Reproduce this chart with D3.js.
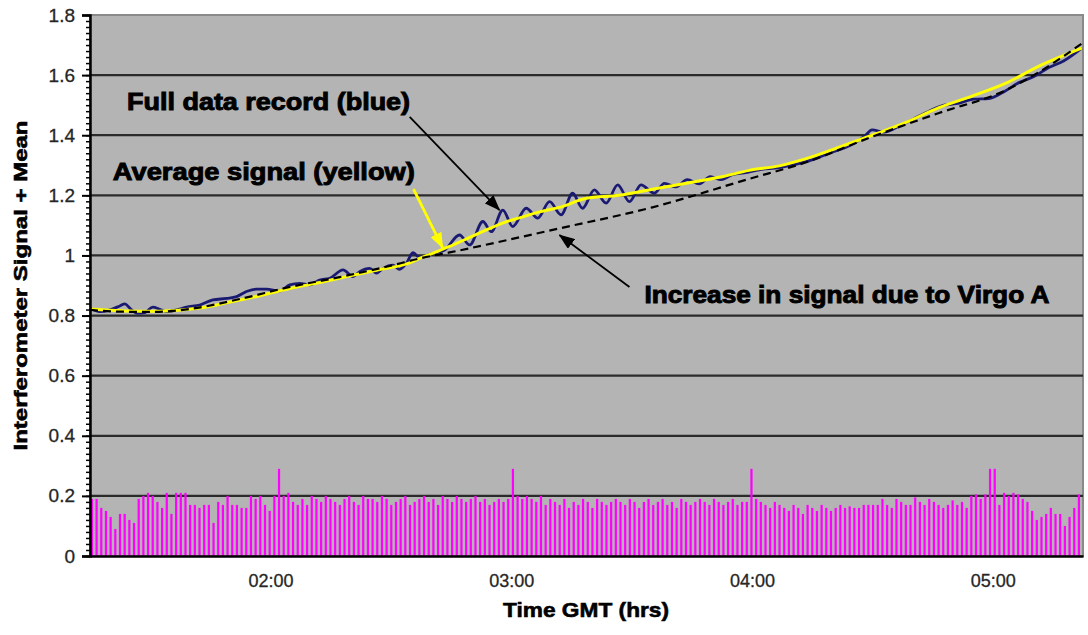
<!DOCTYPE html>
<html>
<head>
<meta charset="utf-8">
<script src="https://cdnjs.cloudflare.com/ajax/libs/d3/7.8.5/d3.min.js"></script>
<style>
  body { margin: 0; background: #fff; }
  text { font-family: "Liberation Sans", Arial, sans-serif; }
</style>
</head>
<body>
<div id="chart"></div>
<script>
// hours GMT (decimal) and interferometer value
var bluePoints = [
  [1.250, 0.824], [1.291, 0.813], [1.333, 0.819], [1.374, 0.832], [1.395, 0.839],
  [1.416, 0.824], [1.444, 0.808], [1.478, 0.810], [1.511, 0.828], [1.540, 0.821],
  [1.568, 0.813], [1.610, 0.819], [1.651, 0.828], [1.706, 0.835], [1.760, 0.852],
  [1.817, 0.857], [1.859, 0.863], [1.900, 0.880], [1.942, 0.888], [1.983, 0.888],
  [2.038, 0.882], [2.080, 0.902], [2.121, 0.907], [2.163, 0.902], [2.204, 0.918],
  [2.246, 0.924], [2.301, 0.952], [2.343, 0.930], [2.370, 0.946], [2.412, 0.957],
  [2.440, 0.941], [2.467, 0.957], [2.509, 0.968], [2.536, 0.954], [2.564, 0.974],
  [2.592, 1.009], [2.619, 0.993], [2.674, 1.007], [2.723, 1.018], [2.785, 1.068],
  [2.827, 1.035], [2.882, 1.113], [2.917, 1.079], [2.965, 1.151], [3.006, 1.096],
  [3.062, 1.157], [3.110, 1.124], [3.159, 1.179], [3.207, 1.135], [3.255, 1.207],
  [3.296, 1.157], [3.345, 1.218], [3.394, 1.174], [3.442, 1.235], [3.491, 1.179],
  [3.539, 1.235], [3.594, 1.207], [3.636, 1.240], [3.684, 1.228], [3.731, 1.252],
  [3.781, 1.238], [3.827, 1.262], [3.872, 1.252], [3.922, 1.270], [3.968, 1.275],
  [4.030, 1.285], [4.113, 1.292], [4.225, 1.312], [4.320, 1.340], [4.404, 1.365],
  [4.466, 1.395], [4.499, 1.418], [4.549, 1.410], [4.611, 1.430], [4.673, 1.455],
  [4.736, 1.480], [4.798, 1.500], [4.848, 1.505], [4.922, 1.520], [4.984, 1.522],
  [5.047, 1.545], [5.109, 1.575], [5.171, 1.595], [5.233, 1.625], [5.296, 1.648],
  [5.370, 1.690]
];

var yellowPoints = [
  [1.250, 0.822], [1.333, 0.818], [1.416, 0.815], [1.499, 0.814], [1.582, 0.816],
  [1.706, 0.825], [1.831, 0.845], [1.955, 0.866], [2.080, 0.890], [2.204, 0.910],
  [2.329, 0.932], [2.453, 0.953], [2.578, 0.975], [2.619, 0.990], [2.682, 1.010],
  [2.744, 1.030], [2.827, 1.060], [2.897, 1.085], [2.972, 1.110], [3.034, 1.125],
  [3.117, 1.145], [3.200, 1.160], [3.312, 1.190], [3.449, 1.200], [3.586, 1.220],
  [3.727, 1.240], [3.864, 1.260], [3.989, 1.283], [4.113, 1.298], [4.225, 1.322],
  [4.362, 1.360], [4.499, 1.400], [4.632, 1.440], [4.777, 1.492], [4.914, 1.530],
  [5.055, 1.573], [5.192, 1.630], [5.370, 1.690]
];

var baselinePoints = [
  [1.250, 0.819], [1.374, 0.813], [1.499, 0.812], [1.665, 0.822], [1.872, 0.855],
  [2.080, 0.895], [2.287, 0.928], [2.495, 0.965], [2.619, 0.990], [2.744, 1.010],
  [3.200, 1.090], [3.586, 1.160], [3.989, 1.255], [4.225, 1.310], [4.499, 1.395],
  [4.777, 1.474], [5.055, 1.550], [5.192, 1.610], [5.370, 1.705]
];

// magenta trace peaks, evenly spaced between magentaStart and magentaEnd
var magentaStart = 1.258, magentaEnd = 5.358;
var magentaPeaks = [
  .19,.19,.16,.15,.13,.09,.14,.14,.12,.11,
  .19,.20,.21,.20,.18,.16,.21,.14,.21,.21,
  .21,.17,.17,.16,.17,.17,.11,.18,.17,.20,
  .17,.17,.16,.16,.20,.19,.20,.17,.15,.20,
  .29,.20,.21,.18,.17,.19,.17,.20,.19,.18,
  .20,.19,.18,.17,.19,.20,.18,.17,.20,.19,
  .19,.18,.20,.19,.17,.18,.19,.20,.17,.18,
  .19,.20,.18,.19,.17,.20,.19,.18,.20,.19,
  .18,.19,.20,.18,.19,.17,.18,.19,.18,.19,
  .29,.20,.19,.20,.19,.18,.20,.17,.19,.18,
  .17,.19,.16,.18,.17,.19,.18,.16,.19,.18,
  .17,.18,.19,.18,.17,.19,.18,.16,.18,.19,
  .17,.18,.19,.17,.18,.16,.19,.18,.17,.18,
  .19,.18,.17,.19,.18,.17,.18,.19,.17,.18,
  .18,.29,.19,.18,.17,.16,.18,.17,.16,.15,
  .17,.16,.14,.17,.16,.15,.17,.16,.15,.16,
  .17,.16,.165,.16,.16,.17,.17,.17,.17,.19,
  .17,.16,.19,.18,.17,.17,.195,.18,.17,.19,
  .18,.17,.16,.17,.185,.17,.18,.16,.20,.205,
  .19,.205,.29,.29,.17,.21,.20,.21,.205,.19,
  .18,.15,.12,.13,.14,.16,.14,.14,.10,.13,
  .16,.205
];

var yMajor = [0, 0.2, 0.4, 0.6, 0.8, 1, 1.2, 1.4, 1.6, 1.8];
var xTicks = [2, 3, 4, 5];

var W = 1088, H = 635;
var margin = { left: 90, right: 5, top: 15, bottom: 79 };
var width = W - margin.left - margin.right,
    height = H - margin.top - margin.bottom;

var svg = d3.select("#chart").append("svg")
    .attr("width", W)
    .attr("height", H);

var defs = svg.append("defs");
function arrowHead(id, color) {
  defs.append("marker")
      .attr("id", id)
      .attr("markerUnits", "userSpaceOnUse")
      .attr("markerWidth", 16)
      .attr("markerHeight", 12)
      .attr("refX", 15)
      .attr("refY", 6)
      .attr("orient", "auto")
    .append("path")
      .attr("d", "M0,0 L16,6 L0,12 Z")
      .attr("fill", color);
}
arrowHead("headBlack", "#000");
arrowHead("headYellow", "#ffff00");

var g = svg.append("g")
    .attr("transform", "translate(" + margin.left + "," + margin.top + ")");

var x = d3.scaleLinear().domain([1.25, 5.375]).range([0, width]);
var y = d3.scaleLinear().domain([0, 1.8]).range([height, 0]);

// plot background
g.append("rect")
    .attr("width", width)
    .attr("height", height)
    .attr("fill", "#b4b4b4")
    .attr("stroke", "#8a8a8a")
    .attr("stroke-width", 2);

// gridlines
g.selectAll(".grid")
    .data(yMajor.filter(function (d) { return d > 0 && d < 1.8; }))
  .enter().append("line")
    .attr("x1", 0).attr("x2", width)
    .attr("y1", function (d) { return y(d); })
    .attr("y2", function (d) { return y(d); })
    .attr("stroke", "#2b2b2b")
    .attr("stroke-width", 2.2);

// magenta trace
var xi = d3.scaleLinear()
    .domain([0, magentaPeaks.length - 1])
    .range([x(magentaStart), x(magentaEnd)]);
g.selectAll(".spike")
    .data(magentaPeaks)
  .enter().append("rect")
    .attr("x", function (d, i) { return xi(i) - 1.1; })
    .attr("width", 2.2)
    .attr("y", function (d) { return y(d); })
    .attr("height", function (d) { return y(0) - y(d); })
    .attr("fill", "#ff00ff");

var line = d3.line()
    .x(function (d) { return x(d[0]); })
    .y(function (d) { return y(d[1]); })
    .curve(d3.curveMonotoneX);

g.append("path")
    .attr("d", line(bluePoints))
    .attr("fill", "none")
    .attr("stroke", "#1a1a72")
    .attr("stroke-width", 2.8);

g.append("path")
    .attr("d", line(yellowPoints))
    .attr("fill", "none")
    .attr("stroke", "#ffff00")
    .attr("stroke-width", 3);

g.append("path")
    .attr("d", line(baselinePoints))
    .attr("fill", "none")
    .attr("stroke", "#000")
    .attr("stroke-width", 2.2)
    .attr("stroke-dasharray", "8,5");

// axes
var yAxisMinor = d3.axisLeft(y)
    .tickValues(d3.range(0, 1.801, 0.02))
    .tickSize(4)
    .tickFormat("");
g.append("g").call(yAxisMinor)
    .call(function (s) { s.select(".domain").remove(); })
    .selectAll("line").attr("stroke", "#000").attr("stroke-width", 1.5);

var yAxis = d3.axisLeft(y)
    .tickValues(yMajor)
    .tickSize(8)
    .tickPadding(7)
    .tickFormat(function (d) { return d3.format("")(+d.toFixed(1)); });
var yG = g.append("g").call(yAxis);
yG.select(".domain").attr("stroke", "#000").attr("stroke-width", 2.5);
yG.selectAll("line").attr("stroke", "#000").attr("stroke-width", 2);
yG.selectAll("text")
    .attr("font-size", 19)
    .attr("fill", "#262626")
    .attr("stroke", "#262626")
    .attr("stroke-width", 0.3)
    .style("font-family", "'Liberation Sans', Arial, sans-serif");

var xAxis = d3.axisBottom(x)
    .tickValues(xTicks)
    .tickSize(0)
    .tickSizeOuter(0)
    .tickPadding(18)
    .tickFormat(function (d) { return d3.format("02")(d) + ":00"; });
var xG = g.append("g")
    .attr("transform", "translate(0," + height + ")")
    .call(xAxis);
xG.select(".domain").attr("stroke", "#000").attr("stroke-width", 2.5);
xG.selectAll("text")
    .attr("font-size", 18)
    .attr("fill", "#262626")
    .attr("stroke", "#262626")
    .attr("stroke-width", 0.3)
    .style("font-family", "'Liberation Sans', Arial, sans-serif");

// axis titles
svg.append("text")
    .attr("transform", "translate(27," + (margin.top + y(0.9)) + ") rotate(-90)")
    .attr("text-anchor", "middle")
    .attr("font-size", 19)
    .attr("font-weight", "bold")
    .attr("stroke", "#000")
    .attr("stroke-width", 0.6)
    .attr("textLength", 330)
    .attr("lengthAdjust", "spacingAndGlyphs")
    .text("Interferometer Signal + Mean");

svg.append("text")
    .attr("x", 586)
    .attr("y", 617)
    .attr("text-anchor", "middle")
    .attr("font-size", 21)
    .attr("font-weight", "bold")
    .attr("stroke", "#000")
    .attr("stroke-width", 0.6)
    .attr("textLength", 166)
    .attr("lengthAdjust", "spacingAndGlyphs")
    .text("Time GMT (hrs)");

// annotations
function label(h, v, txt, len) {
  g.append("text")
      .attr("x", x(h))
      .attr("y", y(v))
      .attr("font-size", 23)
      .attr("font-weight", "bold")
      .attr("stroke", "#000")
      .attr("stroke-width", 0.9)
      .attr("textLength", len)
      .attr("lengthAdjust", "spacingAndGlyphs")
      .text(txt);
}
function arrow(h1, v1, h2, v2, color, head, w) {
  g.append("line")
      .attr("x1", x(h1)).attr("y1", y(v1))
      .attr("x2", x(h2)).attr("y2", y(v2))
      .attr("stroke", color)
      .attr("stroke-width", w)
      .attr("marker-end", "url(#" + head + ")");
}

label(1.404, 1.484, "Full data record (blue)", 283);
label(1.345, 1.251, "Average signal (yellow)", 302);
label(3.553, 0.842, "Increase in signal due to Virgo A", 405);

arrow(2.578, 1.461, 2.951, 1.151, "#000", "headBlack", 1.8);
arrow(2.594, 1.221, 2.715, 1.025, "#ffff00", "headYellow", 2.8);
arrow(3.491, 0.895, 3.200, 1.068, "#000", "headBlack", 1.8);
</script>
</body>
</html>
